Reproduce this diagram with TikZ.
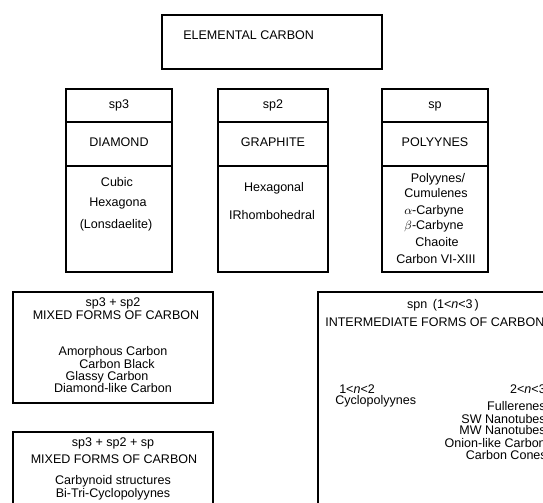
\documentclass[tikz,border=0pt]{standalone}
\usepackage{fontspec}
\setmainfont{Liberation Sans}

\begin{document}
\begin{tikzpicture}[x=0.75pt, y=-0.75pt,
    box/.style={line width=1pt},
    lbl/.style={font=\fontsize{9.4pt}{11pt}\selectfont, inner sep=0pt, text height=7pt, text depth=2pt}]

    % Canvas
    \useasboundingbox (0,0) rectangle (543,503);
    \clip (0,0) rectangle (543,503);

    % Top box
    \draw[box] (162,15) rectangle (382,69);
    \node[lbl, anchor=west] (elemental) at (183,36) {ELEMENTAL CARBON};

    % Three hybridisation columns
    \foreach \xl/\xr in {66/172, 218/328, 382/488} {
        \draw[box] (\xl,89) rectangle (\xr,272);
        \draw[box] (\xl,122) -- (\xr,122);
        \draw[box] (\xl,166) -- (\xr,166);
    }

    % sp3 column
    \node[lbl] (sp3) at (119,105) {sp3};
    \node[lbl] (diamond) at (119,143) {DIAMOND};
    \node[lbl] (cubic) at (117,183) {Cubic};
    \node[lbl] (hexa) at (118,203) {Hexagona};
    \node[lbl] (lonsd) at (116,225) {(Lonsdaelite)};

    % sp2 column
    \node[lbl] (sp2) at (273,105) {sp2};
    \node[lbl] (graphite) at (273,143) {GRAPHITE};
    \node[lbl] (hexagonal) at (274,188) {Hexagonal};
    \node[lbl] (rhombo) at (272,216) {IRhombohedral};

    % sp column
    \node[lbl] (sp) at (435,105) {sp};
    \node[lbl] (polyynes) at (435,143) {POLYYNES};
    \node[lbl] (poly) at (438,179) {Polyynes/};
    \node[lbl] (cumul) at (436,194) {Cumulenes};
    \node[lbl] (alpha) at (434,211) {$\alpha$-Carbyne};
    \node[lbl] (beta) at (434,226) {$\beta$-Carbyne};
    \node[lbl] (chaoite) at (437,243) {Chaoite};
    \node[lbl] (vixiii) at (436,260) {Carbon VI-XIII};

    % Mixed forms sp3 + sp2
    \draw[box] (13,292) rectangle (213,403);
    \node[lbl] (mixa) at (113,303) {sp3 + sp2};
    \node[lbl] (mixaname) at (116,316) {MIXED FORMS OF CARBON};
    \node[lbl] (amorph) at (113,352) {Amorphous Carbon};
    \node[lbl] (black) at (117,365) {Carbon Black};
    \node[lbl] (glassy) at (107,377) {Glassy Carbon};
    \node[lbl] (dlc) at (113,389) {Diamond-like Carbon};

    % Mixed forms sp3 + sp2 + sp
    \draw[box] (13,432) rectangle (213,530);
    \node[lbl] (mixb) at (113,443) {sp3 + sp2 + sp};
    \node[lbl] (mixbname) at (114,460) {MIXED FORMS OF CARBON};
    \node[lbl] (carbynoid) at (113,481) {Carbynoid structures};
    \node[lbl] (bitri) at (113,494) {Bi-Tri-Cyclopolyynes};

    % Intermediate forms
    \draw[box] (318,292) rectangle (568,530);
    \node[lbl] (spn) at (443,305) {spn\, (1<\textit{n}<3\,)};
    \node[lbl, anchor=west] (inter) at (325,323) {INTERMEDIATE FORMS OF CARBON};
    \node[lbl, anchor=west] (nlow) at (339,390) {1<\textit{n}<2};
    \node[lbl, anchor=west] (cyclo) at (335,401) {Cyclopolyynes};
    \node[lbl, anchor=east] (nhigh) at (546,390) {2<\textit{n}<3};
    \node[lbl, anchor=east] (fuller) at (546,407) {Fullerenes};
    \node[lbl, anchor=east] (swnt) at (546,420) {SW Nanotubes};
    \node[lbl, anchor=east] (mwnt) at (546,431) {MW Nanotubes};
    \node[lbl, anchor=east] (onion) at (546,444) {Onion-like Carbon};
    \node[lbl, anchor=east] (cones) at (547,456) {Carbon Cones};

\end{tikzpicture}
\end{document}
